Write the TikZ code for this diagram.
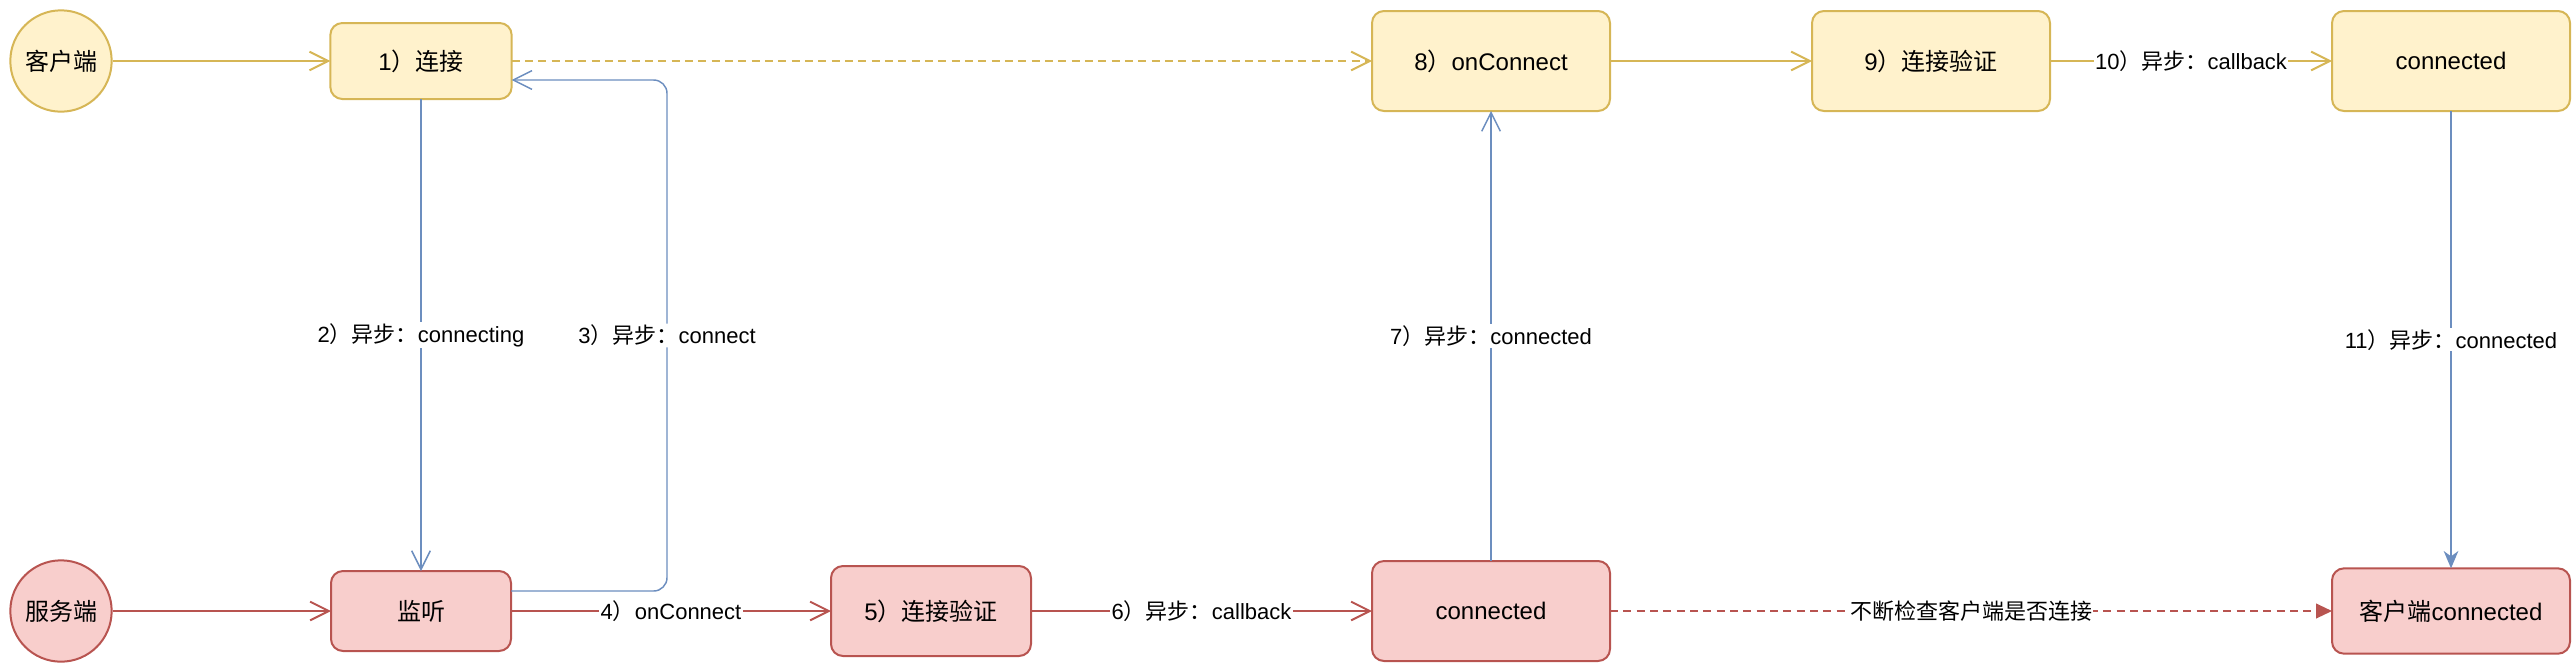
\documentclass[tikz,border=0pt]{standalone}
\usepackage{fontspec}
\setmainfont{Liberation Sans}
\newfontfamily\cjk{Noto Sans CJK SC}
\usetikzlibrary{arrows.meta}
\definecolor{yfill}{HTML}{FFF2CC}
\definecolor{ydraw}{HTML}{D6B656}
\definecolor{rfill}{HTML}{F8CECC}
\definecolor{rdraw}{HTML}{B85450}
\definecolor{bdraw}{HTML}{6C8EBF}
\newcommand{\zh}[1]{{\cjk #1}}

\begin{document}
\begin{tikzpicture}[x=0.75pt,y=-0.75pt,
  box/.style={rectangle,rounded corners=9pt,line width=1.5pt,inner sep=0pt,outer sep=0pt,font=\fontsize{18}{22}\selectfont},
  ybox/.style={box,draw=ydraw,fill=yfill},
  rbox/.style={box,draw=rdraw,fill=rfill},
  big/.style={minimum width=178.5pt,minimum height=75pt},
  ystart/.style={circle,draw=ydraw,fill=yfill,line width=1.5pt,minimum size=76pt,inner sep=0pt,font=\fontsize{18}{22}\selectfont},
  rstart/.style={ystart,draw=rdraw,fill=rfill},
  lbl/.style={fill=white,inner sep=1pt,font=\fontsize{16.5}{20}\selectfont},
  yline/.style={draw=ydraw,line width=1.5pt,-{Straight Barb[length=14pt,width=14pt]}},
  ydash/.style={yline,dash pattern=on 6pt off 4pt},
  rline/.style={draw=rdraw,line width=1.5pt,-{Straight Barb[length=14pt,width=14pt]}},
  rdash/.style={draw=rdraw,line width=1.5pt,dash pattern=on 6pt off 4pt,-{Triangle[length=12pt,width=11pt]}},
  bline/.style={draw=bdraw,line width=1.1pt,-{Straight Barb[length=14pt,width=14pt]}},
  bclassic/.style={draw=bdraw,line width=1.1pt,-{Stealth[length=13pt,width=11pt,inset=4pt]}}]
\useasboundingbox (0,0) rectangle (2572,662);

% client row
\node[ystart] (khd) at (61,61) {\zh{客户端}};
\node[ybox,minimum width=136pt,minimum height=57pt] (lj) at (421,61) {1\zh{）连接}};
\node[ybox,big] (onc) at (1491,61) {8\zh{）}onConnect};
\node[ybox,big] (yz) at (1931,61) {9\zh{）连接验证}};
\node[ybox,big] (ycon) at (2451,61) {connected};

% server row
\node[rstart] (fwd) at (61,611) {\zh{服务端}};
\node[rbox,minimum width=135pt,minimum height=60pt] (jt) at (421,611) {\zh{监听}};
\node[rbox,minimum width=150pt,minimum height=67.5pt] (ryz) at (931,611) {5\zh{）连接验证}};
\node[rbox,big] (rcon) at (1491,611) {connected};
\node[rbox,minimum width=178.5pt,minimum height=64pt] (kcon) at (2451,611) {\zh{客户端}connected};

\coordinate (b3) at (667,591);
\coordinate (t3) at (667,80);

\draw[yline] (khd) -- (lj);
\draw[ydash] (lj) -- (onc);
\draw[yline] (onc) -- (yz);
\draw[yline] (yz) -- node[lbl]{10\zh{）异步：}callback} (ycon);

\draw[rline] (fwd) -- (jt);
\draw[rline] (jt) -- node[lbl]{4\zh{）}onConnect} (ryz);
\draw[rline] (ryz) -- node[lbl]{6\zh{）异步：}callback} (rcon);
\draw[rdash] (rcon) -- node[lbl]{\zh{不断检查客户端是否连接}} (kcon);

\draw[bline] (lj) -- node[lbl]{2\zh{）异步：}connecting} (jt);
\draw[bline,rounded corners=10pt] ([yshift=15pt]jt.east) -- (b3) -- node[lbl]{3\zh{）异步：}connect} (t3) -- (t3 -| lj.east);
\draw[bline] (rcon) -- node[lbl]{7\zh{）异步：}connected} (onc);
\draw[bclassic] (ycon) -- node[lbl]{11\zh{）异步：}connected} (kcon);
\end{tikzpicture}
\end{document}
